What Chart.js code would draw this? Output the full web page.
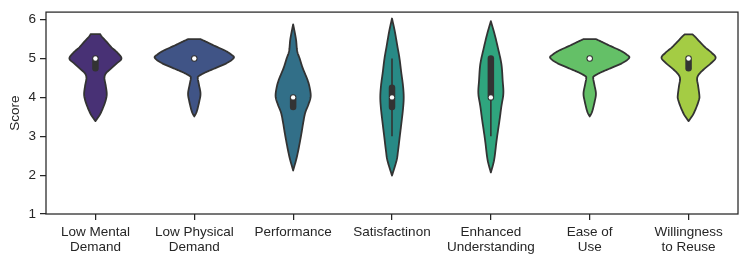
<!DOCTYPE html>
<html>
<head>
<meta charset="utf-8">
<script src="https://cdn.jsdelivr.net/npm/chart.js@4.4.0/dist/chart.umd.min.js"></script>
<style>
  html, body { margin: 0; padding: 0; background: #fff; }
  #wrap { width: 747px; height: 263px; }
</style>
</head>
<body>
<div id="wrap"><canvas id="violinChart"></canvas></div>
<script>
const categories = [['Low Mental', 'Demand'], ['Low Physical', 'Demand'], 'Performance', 'Satisfactinon',
    ['Enhanced', 'Understanding'], ['Ease of', 'Use'], ['Willingness', 'to Reuse']];

const yTicks = [1, 2, 3, 4, 5, 6];

// box statistics
const medians = [5, 5, 4, 4, 4, 5, 5];
const q1 = [4.75, 5, 3.75, 3.75, 4, 5, 4.75];
const q3 = [5, 5, 4, 4.25, 5, 5, 5];
const whiskerLow = [4.75, 5, 3.75, 3, 3, 5, 4.75];
const whiskerHigh = [5, 5, 4, 5, 5, 5, 5];

// violin outlines: score levels and relative density (widest = 1)
const violinScores = [
    [3.39, 3.56, 3.76, 3.95, 4.1, 4.3, 4.5, 4.62, 4.74, 4.87, 5.0, 5.15, 5.29, 5.45, 5.56, 5.63],
    [3.51, 3.64, 3.9, 4.1, 4.32, 4.49, 4.55, 4.65, 4.76, 4.89, 5.02, 5.1, 5.2, 5.33, 5.43, 5.5],
    [2.12, 2.5, 3.0, 3.34, 3.6, 3.8, 4.02, 4.25, 4.44, 4.6, 4.78, 5.0, 5.2, 5.5, 5.88],
    [1.99, 2.37, 2.62, 3.0, 3.3, 3.7, 4.0, 4.3, 4.65, 5.0, 5.33, 5.7, 6.03],
    [2.07, 2.4, 2.91, 3.42, 3.77, 4.1, 4.43, 4.86, 5.28, 5.62, 5.96],
    [3.51, 3.64, 3.9, 4.1, 4.32, 4.49, 4.55, 4.65, 4.76, 4.89, 5.02, 5.1, 5.2, 5.33, 5.43, 5.5],
    [3.39, 3.56, 3.76, 3.95, 4.05, 4.3, 4.48, 4.6, 4.74, 4.87, 5.02, 5.15, 5.29, 5.45, 5.56, 5.62]
];
const violinDensity = [
    [0, .114, .203, .266, .286, .261, .228, .266, .392, .532, .658, .557, .405, .266, .165, .119],
    [0, .063, .127, .157, .119, .089, .114, .296, .549, .835, 1, .937, .785, .506, .304, .157],
    [0, .101, .197, .253, .304, .380, .443, .418, .367, .304, .233, .165, .101, .071, 0],
    [0, .114, .152, .197, .233, .278, .296, .278, .233, .190, .134, .071, 0],
    [0, .084, .147, .220, .266, .316, .299, .266, .177, .096, 0],
    [0, .063, .127, .157, .119, .089, .114, .296, .549, .835, 1, .937, .785, .506, .304, .157],
    [0, .114, .203, .266, .273, .241, .215, .266, .405, .557, .684, .582, .418, .266, .165, .101]
];

const colors = ['#483175', '#405486', '#326f88', '#288a86', '#2fa57e', '#64c067', '#a4cc44'];
const lineColor = '#333333';
const axisColor = '#262626';
const font = { family: '"Liberation Sans", Arial, sans-serif', size: 13.5 };

// catmull-rom smoothing of an outline, for drawing only
function smooth(ss, ds) {
    const out = [];
    const n = ss.length;
    for (let i = 0; i < n - 1; i++) {
        const i0 = Math.max(i - 1, 0), i3 = Math.min(i + 2, n - 1);
        for (let t = 0; t < 1; t += 0.1) {
            const t2 = t * t, t3 = t2 * t;
            const cr = (a, b, c, d) => 0.5 * (2 * b + (-a + c) * t + (2 * a - 5 * b + 4 * c - d) * t2 + (-a + 3 * b - 3 * c + d) * t3);
            out.push([cr(ss[i0], ss[i], ss[i + 1], ss[i3]), Math.max(0, cr(ds[i0], ds[i], ds[i + 1], ds[i3]))]);
        }
    }
    out.push([ss[n - 1], ds[n - 1]]);
    return out;
}

const violinPlugin = {
    id: 'violins',
    beforeDatasetsDraw(chart) {
        const { ctx, scales: { x, y } } = chart;
        const k = (x.getPixelForValue(1) - x.getPixelForValue(0)) * 0.4;
        ctx.save();
        for (let i = 0; i < categories.length; i++) {
            const cx = x.getPixelForValue(i);
            const pts = smooth(violinScores[i], violinDensity[i]);
            ctx.beginPath();
            pts.forEach(([s, d], j) => {
                const px = cx - d * k, py = y.getPixelForValue(s);
                j ? ctx.lineTo(px, py) : ctx.moveTo(px, py);
            });
            for (let j = pts.length - 1; j >= 0; j--) {
                ctx.lineTo(cx + pts[j][1] * k, y.getPixelForValue(pts[j][0]));
            }
            ctx.closePath();
            ctx.fillStyle = colors[i];
            ctx.fill();
            ctx.lineWidth = 1.8;
            ctx.lineJoin = 'round';
            ctx.strokeStyle = lineColor;
            ctx.stroke();

            // whisker
            ctx.beginPath();
            ctx.moveTo(cx, y.getPixelForValue(whiskerLow[i]));
            ctx.lineTo(cx, y.getPixelForValue(whiskerHigh[i]));
            ctx.lineWidth = 1.6;
            ctx.lineCap = 'butt';
            ctx.stroke();

            // box
            ctx.beginPath();
            ctx.moveTo(cx, y.getPixelForValue(q1[i]));
            ctx.lineTo(cx, y.getPixelForValue(q3[i]));
            ctx.lineWidth = 6.5;
            ctx.lineCap = 'round';
            ctx.stroke();
        }
        ctx.restore();
    },
    afterDraw(chart) {
        const { ctx, chartArea: a } = chart;
        ctx.save();
        ctx.strokeStyle = axisColor;
        ctx.lineWidth = 1.25;
        ctx.strokeRect(a.left, a.top, a.right - a.left, a.bottom - a.top);
        ctx.restore();
    }
};

new Chart(document.getElementById('violinChart'), {
    type: 'line',
    data: {
        labels: categories,
        datasets: [{
            label: 'Median',
            data: medians,
            showLine: false,
            pointRadius: 2.2,
            pointBorderWidth: 0,
            pointBackgroundColor: '#ffffff',
            pointHoverRadius: 2.2
        }]
    },
    options: {
        responsive: true,
        maintainAspectRatio: false,
        animation: false,
        events: [],
        layout: { padding: { top: 9, right: 9, left: 0, bottom: 0 } },
        plugins: { legend: { display: false }, tooltip: { enabled: false } },
        scales: {
            x: {
                type: 'category',
                offset: true,
                border: { display: false },
                grid: { offset: false, drawOnChartArea: false, drawTicks: true, tickLength: 6, color: axisColor, lineWidth: 1.25 },
                ticks: { font: { ...font, lineHeight: 1.1 }, color: axisColor, padding: 5, maxRotation: 0, autoSkip: false },
                afterFit: s => { s.height = 49; }
            },
            y: {
                min: 1,
                max: 6.195,
                border: { display: false },
                grid: { drawOnChartArea: false, drawTicks: true, tickLength: 6, color: axisColor, lineWidth: 1.25 },
                ticks: { font, color: axisColor, padding: 4 },
                afterBuildTicks: s => { s.ticks = yTicks.map(v => ({ value: v })); },
                title: { display: true, text: 'Score', font, color: axisColor, padding: { top: 7, bottom: 0 } },
                afterFit: s => { s.width = 46; }
            }
        }
    },
    plugins: [violinPlugin]
});
</script>
</body>
</html>
